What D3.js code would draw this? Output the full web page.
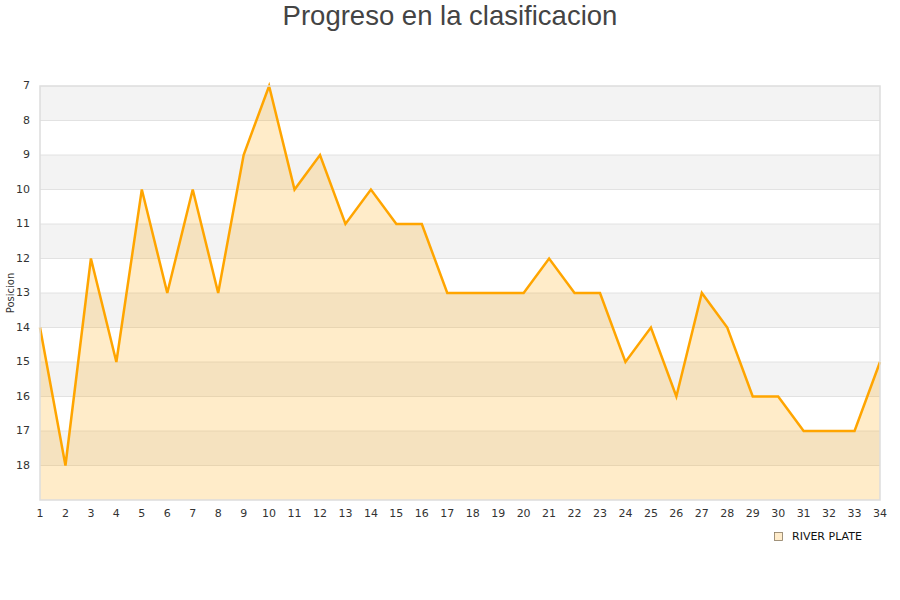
<!DOCTYPE html>
<html>
<head>
<meta charset="utf-8">
<script src="https://cdn.jsdelivr.net/npm/d3@7"></script>
<style>
body { margin: 0; background: #fff; }
</style>
</head>
<body>
<script>
var svgWidth = 900;
var svgHeight = 600;

// jornadas y posiciones
var rounds = d3.range(1, 35);
var positions = [14, 18, 12, 15, 10, 13, 10, 13, 9, 7, 10, 9, 11, 10, 11, 11, 13, 13, 13, 13,
                 12, 13, 13, 15, 14, 16, 13, 14, 16, 16, 17, 17, 17, 15];
var yTicks = [7, 8, 9, 10, 11, 12, 13, 14, 15, 16, 17, 18];
var teamName = "RIVER PLATE";
var chartTitle = "Progreso en la clasificacion";
var yTitle = "Posicion";

// (window.top es de solo lectura, por eso estos nombres)
var plotLeft = 40, plotRight = 880, plotTop = 86, plotBottom = 500;

var svg = d3.select("body").append("svg").attr("width", svgWidth).attr("height", svgHeight);

var x = d3.scaleLinear().domain([1, 34]).range([plotLeft, plotRight]);
var y = d3.scaleLinear().domain([7, 19]).range([plotTop, plotBottom]);

// bandas alternas
svg.selectAll("rect.band").data(d3.range(7, 19)).join("rect")
    .attr("class", "band")
    .attr("x", plotLeft)
    .attr("y", function(d) { return y(d); })
    .attr("width", plotRight - plotLeft)
    .attr("height", function(d) { return y(d + 1) - y(d); })
    .attr("fill", function(d) { return (d % 2 === 1) ? "#f3f3f3" : "#ffffff"; });

// lineas de grilla
svg.selectAll("line.grid").data(d3.range(8, 19)).join("line")
    .attr("class", "grid")
    .attr("x1", plotLeft).attr("x2", plotRight)
    .attr("y1", function(d) { return y(d); })
    .attr("y2", function(d) { return y(d); })
    .attr("stroke", "#e2e2e2")
    .attr("stroke-width", 1);

var data = rounds.map(function(r, i) { return { r: r, p: positions[i] }; });

// area
var area = d3.area()
    .x(function(d) { return x(d.r); })
    .y0(plotBottom)
    .y1(function(d) { return y(d.p); });

svg.append("path").datum(data)
    .attr("d", area)
    .attr("fill", "orange")
    .attr("fill-opacity", 0.21);

// linea
var line = d3.line()
    .x(function(d) { return x(d.r); })
    .y(function(d) { return y(d.p); });

svg.append("path").datum(data)
    .attr("d", line)
    .attr("fill", "none")
    .attr("stroke", "orange")
    .attr("stroke-width", 2.5)
    .attr("stroke-linejoin", "miter");

// marco
svg.append("rect")
    .attr("x", plotLeft).attr("y", plotTop)
    .attr("width", plotRight - plotLeft).attr("height", plotBottom - plotTop)
    .attr("fill", "none")
    .attr("stroke", "#dddddd")
    .attr("stroke-width", 1.5);

// etiquetas eje y
svg.selectAll("text.ytick").data(yTicks).join("text")
    .attr("class", "ytick")
    .attr("x", 30)
    .attr("y", function(d) { return y(d); })
    .attr("text-anchor", "end")
    .attr("dominant-baseline", "middle")
    .attr("font-family", "DejaVu Sans, sans-serif")
    .attr("font-size", 11)
    .attr("fill", "#333")
    .text(function(d) { return d; });

// etiquetas eje x
svg.selectAll("text.xtick").data(rounds).join("text")
    .attr("class", "xtick")
    .attr("x", function(d) { return x(d); })
    .attr("y", 514)
    .attr("text-anchor", "middle")
    .attr("dominant-baseline", "middle")
    .attr("font-family", "DejaVu Sans, sans-serif")
    .attr("font-size", 11)
    .attr("fill", "#333")
    .text(function(d) { return d; });

// titulo eje y
svg.append("text")
    .attr("transform", "translate(14," + ((plotTop + plotBottom) / 2) + ") rotate(-90)")
    .attr("text-anchor", "middle")
    .attr("font-family", "DejaVu Sans, sans-serif")
    .attr("font-size", 10)
    .attr("fill", "#333")
    .text(yTitle);

// titulo
svg.append("text")
    .attr("x", 450)
    .attr("y", 25)
    .attr("text-anchor", "middle")
    .attr("font-family", "Liberation Sans, Arial, sans-serif")
    .attr("font-size", 27.5)
    .attr("fill", "#444")
    .text(chartTitle);

// leyenda
svg.append("rect")
    .attr("x", 774.5).attr("y", 532.5)
    .attr("width", 8).attr("height", 8)
    .attr("fill", "#ffeccb")
    .attr("stroke", "#8a7a60")
    .attr("stroke-width", 0.8);

svg.append("text")
    .attr("x", 792)
    .attr("y", 537)
    .attr("dominant-baseline", "middle")
    .attr("font-family", "DejaVu Sans, sans-serif")
    .attr("font-size", 11)
    .attr("fill", "#111")
    .text(teamName);
</script>
</body>
</html>
